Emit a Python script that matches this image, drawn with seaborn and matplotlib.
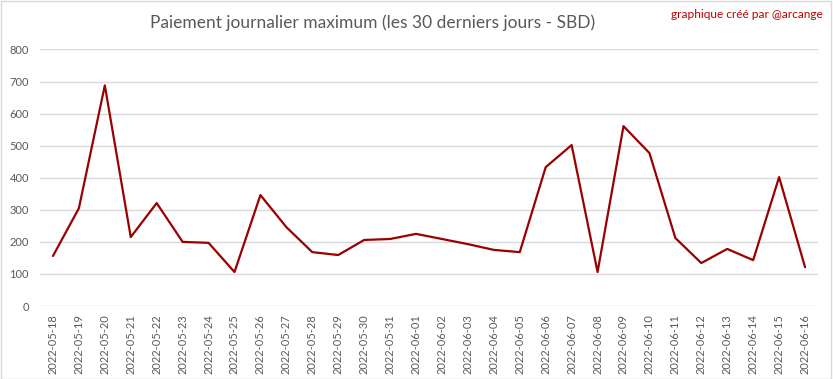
import matplotlib
matplotlib.use("Agg")
import matplotlib.pyplot as plt
import seaborn as sns
import pandas as pd

dates = ["2022-05-18", "2022-05-19", "2022-05-20", "2022-05-21", "2022-05-22", "2022-05-23",
         "2022-05-24", "2022-05-25", "2022-05-26", "2022-05-27", "2022-05-28", "2022-05-29",
         "2022-05-30", "2022-05-31", "2022-06-01", "2022-06-02", "2022-06-03", "2022-06-04",
         "2022-06-05", "2022-06-06", "2022-06-07", "2022-06-08", "2022-06-09", "2022-06-10",
         "2022-06-11", "2022-06-12", "2022-06-13", "2022-06-14", "2022-06-15", "2022-06-16"]
values = [156, 305, 688, 215, 321, 200, 197, 106, 346, 246, 168, 159, 206, 209, 225,
          209, 193, 175, 168, 433, 502, 106, 561, 477, 212, 134, 178, 143, 402, 121]
yticks = [0, 100, 200, 300, 400, 500, 600, 700, 800]

sns.set_theme(style="white")
plt.rcParams['font.family'] = ['Lato', 'DejaVu Sans']

df = pd.DataFrame({"date": dates, "value": values})

fig = plt.figure(figsize=(8.33, 3.79), dpi=100)
ax = fig.add_axes([0.048, 0.1926, 0.934, 0.6768])
sns.lineplot(data=df, x="date", y="value", ax=ax, color="#9B0000", linewidth=1.6, sort=False)

ax.set_ylim(0, 800)
ax.set_xlim(-0.5, len(dates) - 0.5)
ax.set_yticks(yticks)
ax.set_yticklabels([str(v) for v in yticks])
ax.grid(axis="y", color="#D9D9D9", linewidth=1.0)
ax.set_axisbelow(True)
for s in ax.spines.values():
    s.set_visible(False)
ax.tick_params(axis="both", length=0, colors="#595959", labelsize=8)
ax.tick_params(axis="x", rotation=90, pad=6)
ax.tick_params(axis="y", pad=8)
ax.set_xlabel("")
ax.set_ylabel("")

fig.text(0.447, 0.94, "Paiement journalier maximum (les 30 derniers jours - SBD)",
         ha="center", va="center", fontsize=12.5, color="#595959")
fig.text(0.988, 0.962, "graphique créé par @arcange", ha="right", va="center",
         fontsize=8.6, color="#C00000")

border = plt.Rectangle((0.001, 0.001), 0.997, 0.996, transform=fig.transFigure,
                       fill=False, edgecolor="#D9D9D9", linewidth=1)
fig.patches.append(border)

fig.savefig("out.png", dpi=100)
